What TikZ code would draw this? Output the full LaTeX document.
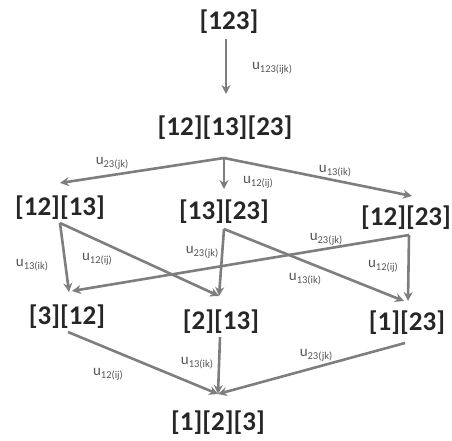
\documentclass[tikz,border=0pt]{standalone}
\usepackage{fontspec}
\setmainfont{Carlito}
\usetikzlibrary{arrows.meta}
\definecolor{arrowgray}{HTML}{7E7E7E}
\definecolor{labgray}{HTML}{555555}
\definecolor{nodeink}{HTML}{262626}
% edge label: u with a lowered index
\newcommand{\ulab}[1]{u\raisebox{-0.45ex}{\fontsize{10.5}{10.5}\selectfont #1}}
\tikzset{
  state/.style={font=\fontsize{27}{27}\selectfont\bfseries, text=nodeink, inner sep=0pt},
  edgelab/.style={font=\fontsize{15}{15}\selectfont, text=labgray, inner sep=0pt},
  arr/.style={draw=arrowgray, line width=2.6pt, -{Stealth[length=9pt,width=9pt]}},
}
\begin{document}
\begin{tikzpicture}[x=1pt,y=-1pt]
\useasboundingbox (0,0) rectangle (452,440);
% lattice states
\node[state] (top) at (229,22) {[123]};
\node[state] (mid) at (225,128) {[12][13][23]};
\node[state] (a) at (60,208) {[12][13]};
\node[state] (b) at (224,212) {[13][23]};
\node[state] (c) at (406,218) {[12][23]};
\node[state] (d) at (67,317) {[3][12]};
\node[state] (e) at (221,322) {[2][13]};
\node[state] (f) at (407,323) {[1][23]};
\node[state] (bot) at (218,423) {[1][2][3]};
% start and end points of the edges
\coordinate (top-s) at (226,39);
\coordinate (mid-e) at (226,94);
\coordinate (mid-s) at (224,158);
\coordinate (a-e) at (60,183);
\coordinate (b-e) at (224,189);
\coordinate (c-e) at (412,196);
\coordinate (a-s) at (60,223);
\coordinate (b-s) at (224,229);
\coordinate (c-s) at (409,235);
\coordinate (d-e1) at (69,292);
\coordinate (d-e2) at (72,291);
\coordinate (e-e1) at (219,296);
\coordinate (e-e2) at (219,296);
\coordinate (f-e1) at (404,301);
\coordinate (f-e2) at (408,301);
\coordinate (d-s) at (68,332);
\coordinate (e-s) at (220,337);
\coordinate (f-s) at (405,343);
\coordinate (bot-e) at (218,394);
% edges
\draw[arr] (top-s) -- (mid-e);
\draw[arr] (mid-s) -- (a-e);
\draw[arr] (mid-s) -- (b-e);
\draw[arr] (mid-s) -- (c-e);
\draw[arr] (a-s) -- (d-e1);
\draw[arr] (a-s) -- (e-e1);
\draw[arr] (b-s) -- (e-e2);
\draw[arr] (b-s) -- (f-e1);
\draw[arr] (c-s) -- (f-e2);
\draw[arr] (c-s) -- (d-e2);
\draw[arr] (d-s) -- (bot-e);
\draw[arr] (e-s) -- (bot-e);
\draw[arr] (f-s) -- (bot-e);
% edge labels
\node[edgelab] at (272,68) {\ulab{123(ijk)}};
\node[edgelab] at (112,163) {\ulab{23(jk)}};
\node[edgelab] at (258,182) {\ulab{12(ij)}};
\node[edgelab] at (335,171) {\ulab{13(ik)}};
\node[edgelab] at (32,265) {\ulab{13(ik)}};
\node[edgelab] at (97,259) {\ulab{12(ij)}};
\node[edgelab] at (202,252) {\ulab{23(jk)}};
\node[edgelab] at (326,239) {\ulab{23(jk)}};
\node[edgelab] at (305,279) {\ulab{13(ik)}};
\node[edgelab] at (383,266) {\ulab{12(ij)}};
\node[edgelab] at (108,374) {\ulab{12(ij)}};
\node[edgelab] at (197,363) {\ulab{13(ik)}};
\node[edgelab] at (316,355) {\ulab{23(jk)}};
\end{tikzpicture}
\end{document}
